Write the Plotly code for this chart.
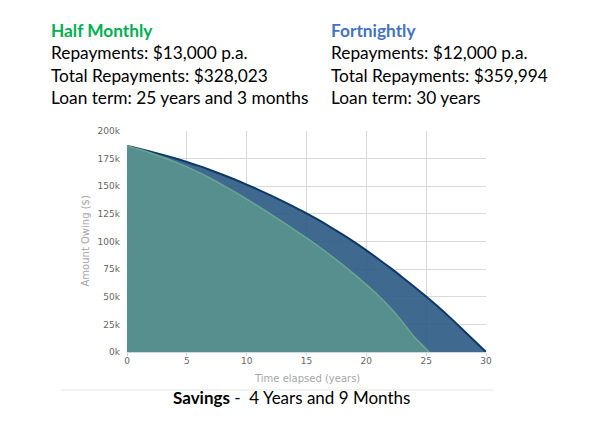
import plotly.graph_objects as go

# ---------------- data ----------------
years_fortnightly = list(range(0, 31))
owing_fortnightly = [186.5, 184.0, 181.3, 178.4, 175.3, 172.0, 168.4, 164.5, 160.4, 156.1,
                     151.5, 146.7, 141.7, 136.5, 131.1, 125.5, 119.5, 113.1, 106.4, 99.4,
                     92.0, 84.2, 76.1, 67.7, 59.1, 50.2, 40.9, 31.1, 20.9, 10.4, 0.0]

years_half_monthly = list(range(0, 26)) + [25.25]
owing_half_monthly = [186.5, 183.5, 180.1, 176.3, 172.1, 167.5, 162.5, 157.0, 151.1, 144.9,
                      138.4, 131.7, 124.8, 117.8, 110.6, 103.2, 95.5, 87.5, 79.1, 70.3,
                      61.0, 51.1, 40.0, 27.5, 13.8, 2.8, 0.0]

x_ticks = [0, 5, 10, 15, 20, 25, 30]
y_ticks = [0, 25, 50, 75, 100, 125, 150, 175, 200]
y_tick_labels = [f"{v}k" for v in y_ticks]

left_lines = ["Repayments: $13,000 p.a.", "Total Repayments: $328,023",
              "Loan term: 25 years and 3 months"]
right_lines = ["Repayments: $12,000 p.a.", "Total Repayments: $359,994",
               "Loan term: 30 years"]

# ---------------- layout geometry ----------------
W, H = 607, 436
L, R, T, B = 127, 121, 131, 84
PW, PH = W - L - R, H - T - B


def px(x):
    return (x - L) / PW


def py(y):
    return (H - B - y) / PH


fig = go.Figure()
fig.add_trace(go.Scatter(
    x=years_fortnightly, y=[v * 1000 for v in owing_fortnightly],
    mode="lines", line=dict(color="#0d3966", width=2, shape="spline", smoothing=1.0),
    fill="tozeroy", fillcolor="rgba(42,89,131,0.9)", hoverinfo="skip", showlegend=False))
fig.add_trace(go.Scatter(
    x=years_half_monthly, y=[v * 1000 for v in owing_half_monthly],
    mode="lines", line=dict(color="#6aa692", width=1.5, shape="spline", smoothing=1.0),
    fill="tozeroy", fillcolor="rgba(89,148,142,0.9)", hoverinfo="skip", showlegend=False))

tick_font = dict(family="DejaVu Sans", size=9, color="#666666")
fig.update_xaxes(range=[0, 30], tickvals=x_ticks, showgrid=True, gridcolor="#d9d9d9",
                 gridwidth=1, zeroline=False, showline=True, linecolor="#ccd6eb",
                 ticks="outside", ticklen=3, tickcolor="#ccd6eb", tickfont=tick_font,
                 ticklabelstandoff=-3)
fig.update_yaxes(range=[0, 200000], tickvals=[v * 1000 for v in y_ticks],
                 ticktext=y_tick_labels, showgrid=True, gridcolor="#d9d9d9", gridwidth=1,
                 zeroline=False, showline=False, tickfont=tick_font, ticklabelstandoff=6)

ann = []
title_font = dict(family="DejaVu Sans", size=10, color="#a6a6a6")
ann.append(dict(text="Amount Owing ($)", x=px(85), y=0.5, xref="paper", yref="paper",
                textangle=-90, showarrow=False, font=title_font,
                xanchor="center", yanchor="middle"))
ann.append(dict(text="Time elapsed (years)", x=0.5, y=py(378), xref="paper", yref="paper",
                showarrow=False, font=title_font, xanchor="center", yanchor="middle"))

FS = 17.3
txt_font = dict(family="Lato", size=FS, color="#000000")
centers = [52.3, 75.0, 97.3]
ann.append(dict(text="<b>Half Monthly</b>", x=px(49), y=py(30), xref="paper", yref="paper",
                showarrow=False, xanchor="left", yanchor="middle",
                font=dict(family="Lato", size=FS, color="#00b050")))
ann.append(dict(text="<b>Fortnightly</b>", x=px(329), y=py(30), xref="paper", yref="paper",
                showarrow=False, xanchor="left", yanchor="middle",
                font=dict(family="Lato", size=FS, color="#4472c4")))
for s, c in zip(left_lines, centers):
    ann.append(dict(text=s, x=px(49), y=py(c), xref="paper", yref="paper", showarrow=False,
                    xanchor="left", yanchor="middle", font=txt_font))
for s, c in zip(right_lines, centers):
    ann.append(dict(text=s, x=px(329), y=py(c), xref="paper", yref="paper", showarrow=False,
                    xanchor="left", yanchor="middle", font=txt_font))
ann.append(dict(text="<b>Savings</b> -&nbsp; 4 Years and 9 Months", x=px(291.7), y=py(397.5),
                xref="paper", yref="paper", showarrow=False, xanchor="center",
                yanchor="middle", font=dict(family="Lato", size=17, color="#000000")))

fig.update_layout(
    width=W, height=H, margin=dict(l=L, r=R, t=T, b=B),
    paper_bgcolor="white", plot_bgcolor="white", annotations=ann,
    shapes=[dict(type="line", xref="paper", yref="paper", x0=px(60.7), x1=px(493),
                 y0=py(390), y1=py(390), line=dict(color="#e6e6e6", width=1))],
)

fig.write_html("out.html")
